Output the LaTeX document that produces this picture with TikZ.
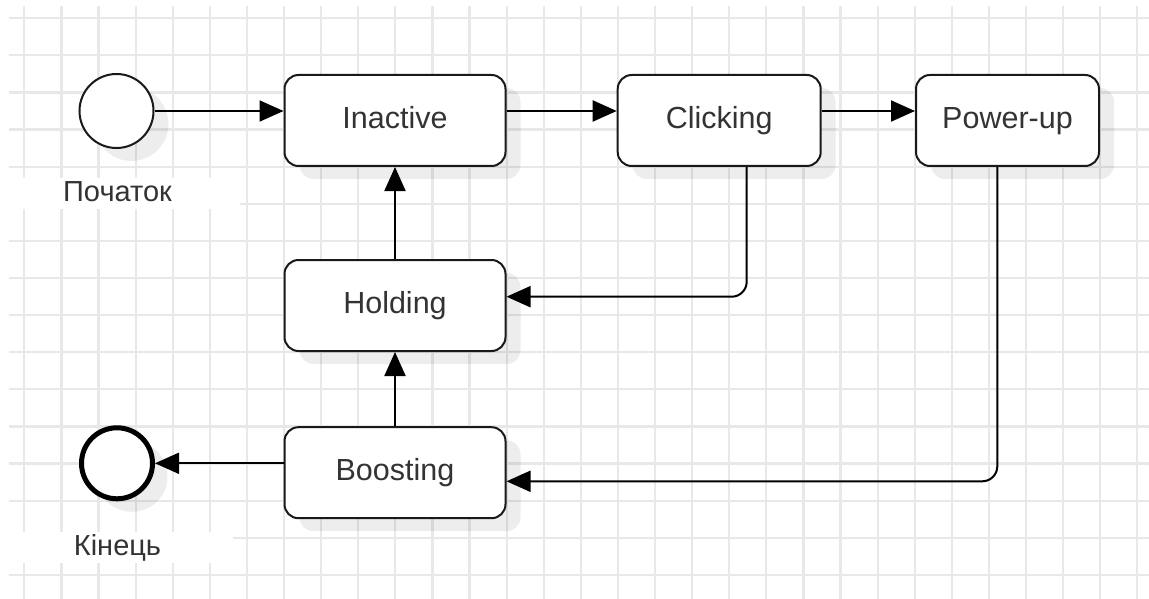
\documentclass[tikz,border=0pt]{standalone}
\usepackage{fontspec}
\setmainfont{Liberation Sans}
\usetikzlibrary{arrows.meta,shadows}
\definecolor{gridc}{HTML}{E8E8E8}
\definecolor{txt}{HTML}{333333}
\tikzset{
  gridline/.style={gridc, line width=2.2pt},
  shad/.style={drop shadow={shadow xshift=15pt, shadow yshift=-13pt, opacity=0.07, fill=black}},
  state/.style={draw=black!90, line width=2pt, fill=white, rounded corners=14pt,
    minimum height=91pt, text=txt, font=\fontsize{30.5}{36}\selectfont,
    text height=22pt, text depth=6pt, shad},
  startst/.style={circle, draw=black!90, line width=2pt, fill=white, minimum size=74pt, inner sep=0pt, shad},
  endst/.style={circle, draw=black, line width=5pt, fill=white, minimum size=71pt, inner sep=0pt, shad},
  lbl/.style={text=txt, font=\fontsize{29}{34}\selectfont, inner sep=0pt},
  arr/.style={draw=black, line width=2pt, -{Triangle[length=24pt,width=21pt]}},
}
\begin{document}
\begin{tikzpicture}[x=1pt,y=-1pt]
\useasboundingbox (0,0) rectangle (1149,599);
\fill[white] (0,0) rectangle (1149,599);
% grid
\foreach \i in {0,...,30} \draw[gridline] ({24.3+37.1*\i},6) -- ({24.3+37.1*\i},599);
\foreach \j in {0,...,15} \draw[gridline] (9,{18.3+37.1*\j}) -- (1149,{18.3+37.1*\j});
% label backgrounds
\fill[white] (0,178) rectangle (240,209);
\fill[white] (0,532) rectangle (233,563);
% states
\node[startst] (start) at (116.5,111) {};
\node[endst] (end) at (117,463.3) {};
\node[lbl, anchor=base] (lstart) at (117.5,201.7) {Початок};
\node[lbl, anchor=base] (lend) at (117.5,555) {Кінець};
\node[state, minimum width=221pt] (inactive) at (395,120.5) {Inactive};
\node[state, minimum width=203pt] (clicking) at (719.2,120.5) {Clicking};
\node[state, minimum width=183pt] (powerup) at (1007.5,120.5) {Power-up};
\node[state, minimum width=221pt] (holding) at (395,305.5) {Holding};
\node[state, minimum width=221pt] (boosting) at (395,472.7) {Boosting};
% bend points
\coordinate (c1) at (746.7,296.7);
\coordinate (c2) at (997.3,481.3);
% connectors
\draw[arr] (start.east) -- (start.east -| inactive.west);
\draw[arr] (inactive.east |- start.east) -- (clicking.west |- start.east);
\draw[arr] (clicking.east |- start.east) -- (powerup.west |- start.east);
\draw[arr, rounded corners=15pt] (clicking.south -| c1) -- (c1) -- (c1 -| holding.east);
\draw[arr, rounded corners=15pt] (powerup.south -| c2) -- (c2) -- (c2 -| boosting.east);
\draw[arr] (holding.north) -- (inactive.south);
\draw[arr] (boosting.north) -- (holding.south);
\draw[arr] (end.east -| boosting.west) -- (end.east);
\end{tikzpicture}
\end{document}
